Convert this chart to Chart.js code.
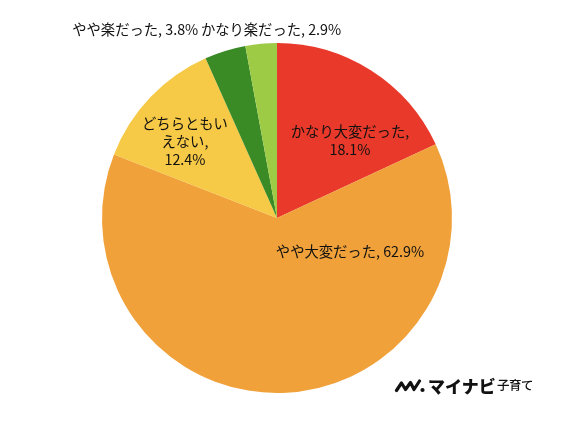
<!DOCTYPE html>
<html>
<head>
<meta charset="utf-8">
<script src="https://cdn.jsdelivr.net/npm/chart.js@4"></script>
<style>
html,body{margin:0;padding:0;background:#fff;}
#wrap{position:relative;width:580px;height:432px;}
.lg{position:absolute;font-family:"Noto Sans CJK JP";color:#111;line-height:1;white-space:nowrap;}
</style>
</head>
<body>
<div id="wrap">
<canvas id="c" width="580" height="432"></canvas>
<svg class="lg" style="left:394px;top:379px;" width="32" height="14" viewBox="0 0 32 14"><path d="M2.5 11.5 L7.5 4 L11.5 10.5 L16.5 3.5 L20 10.5 L25.5 2" fill="none" stroke="#111" stroke-width="3.2" stroke-linejoin="round" stroke-linecap="round"/><circle cx="28.5" cy="11" r="2.1" fill="#111"/></svg>
<span class="lg" style="left:428px;top:377px;font-weight:900;font-size:17px;letter-spacing:0px;">マイナビ</span>
<span class="lg" style="left:497px;top:379px;font-weight:500;font-size:12.5px;letter-spacing:-0.5px;">子育て</span>
</div>
<script>
const categories = ["かなり大変だった", "やや大変だった", "どちらともいえない", "やや楽だった", "かなり楽だった"];
const values = [18.1, 62.9, 12.4, 3.8, 2.9];
const colors = ["#E8392A", "#F0A13A", "#F6C946", "#3A8A26", "#9DCB46"];
// label layout: offsets from pie centre in units of radius, and line breaks
const labelLayout = [
  {dx: 0.417, dy: -0.44, lines: ["かなり大変だった,", "{v}"]},
  {dx: 0.417, dy: 0.194, lines: ["やや大変だった, {v}"]},
  {dx: -0.526, dy: -0.434, lines: ["どちらともい", "えない,", "{v}"]},
  {dx: -0.81, dy: -1.074, lines: ["やや楽だった, {v}"]},
  {dx: -0.034, dy: -1.074, lines: ["かなり楽だった, {v}"]}
];

const labelPlugin = {
  id: 'pieLabels',
  afterDatasetsDraw(chart) {
    const ctx = chart.ctx;
    const meta = chart.getDatasetMeta(0);
    const arc0 = meta.data[0];
    const cx = arc0.x, cy = arc0.y, r = arc0.outerRadius;
    ctx.save();
    ctx.fillStyle = '#111';
    ctx.font = '14.3px "Noto Sans CJK JP"';
    ctx.textAlign = 'center';
    ctx.textBaseline = 'middle';
    const lh = 18;
    labelLayout.forEach((l, i) => {
      const x = cx + l.dx * r, y = cy + l.dy * r;
      const n = l.lines.length;
      l.lines.forEach((t, j) => {
        const s = t.replace('{v}', values[i].toFixed(1) + '%');
        ctx.fillText(s, x, y + (j - (n - 1) / 2) * lh);
      });
    });
    ctx.restore();
  }
};

new Chart(document.getElementById('c'), {
  type: 'pie',
  data: {
    labels: categories,
    datasets: [{data: values, backgroundColor: colors, borderWidth: 0}]
  },
  options: {
    responsive: false,
    animation: false,
    layout: {padding: {left: 102, right: 128, top: 43, bottom: 39}},
    plugins: {legend: {display: false}, tooltip: {enabled: false}}
  },
  plugins: [labelPlugin]
});
</script>
</body>
</html>
